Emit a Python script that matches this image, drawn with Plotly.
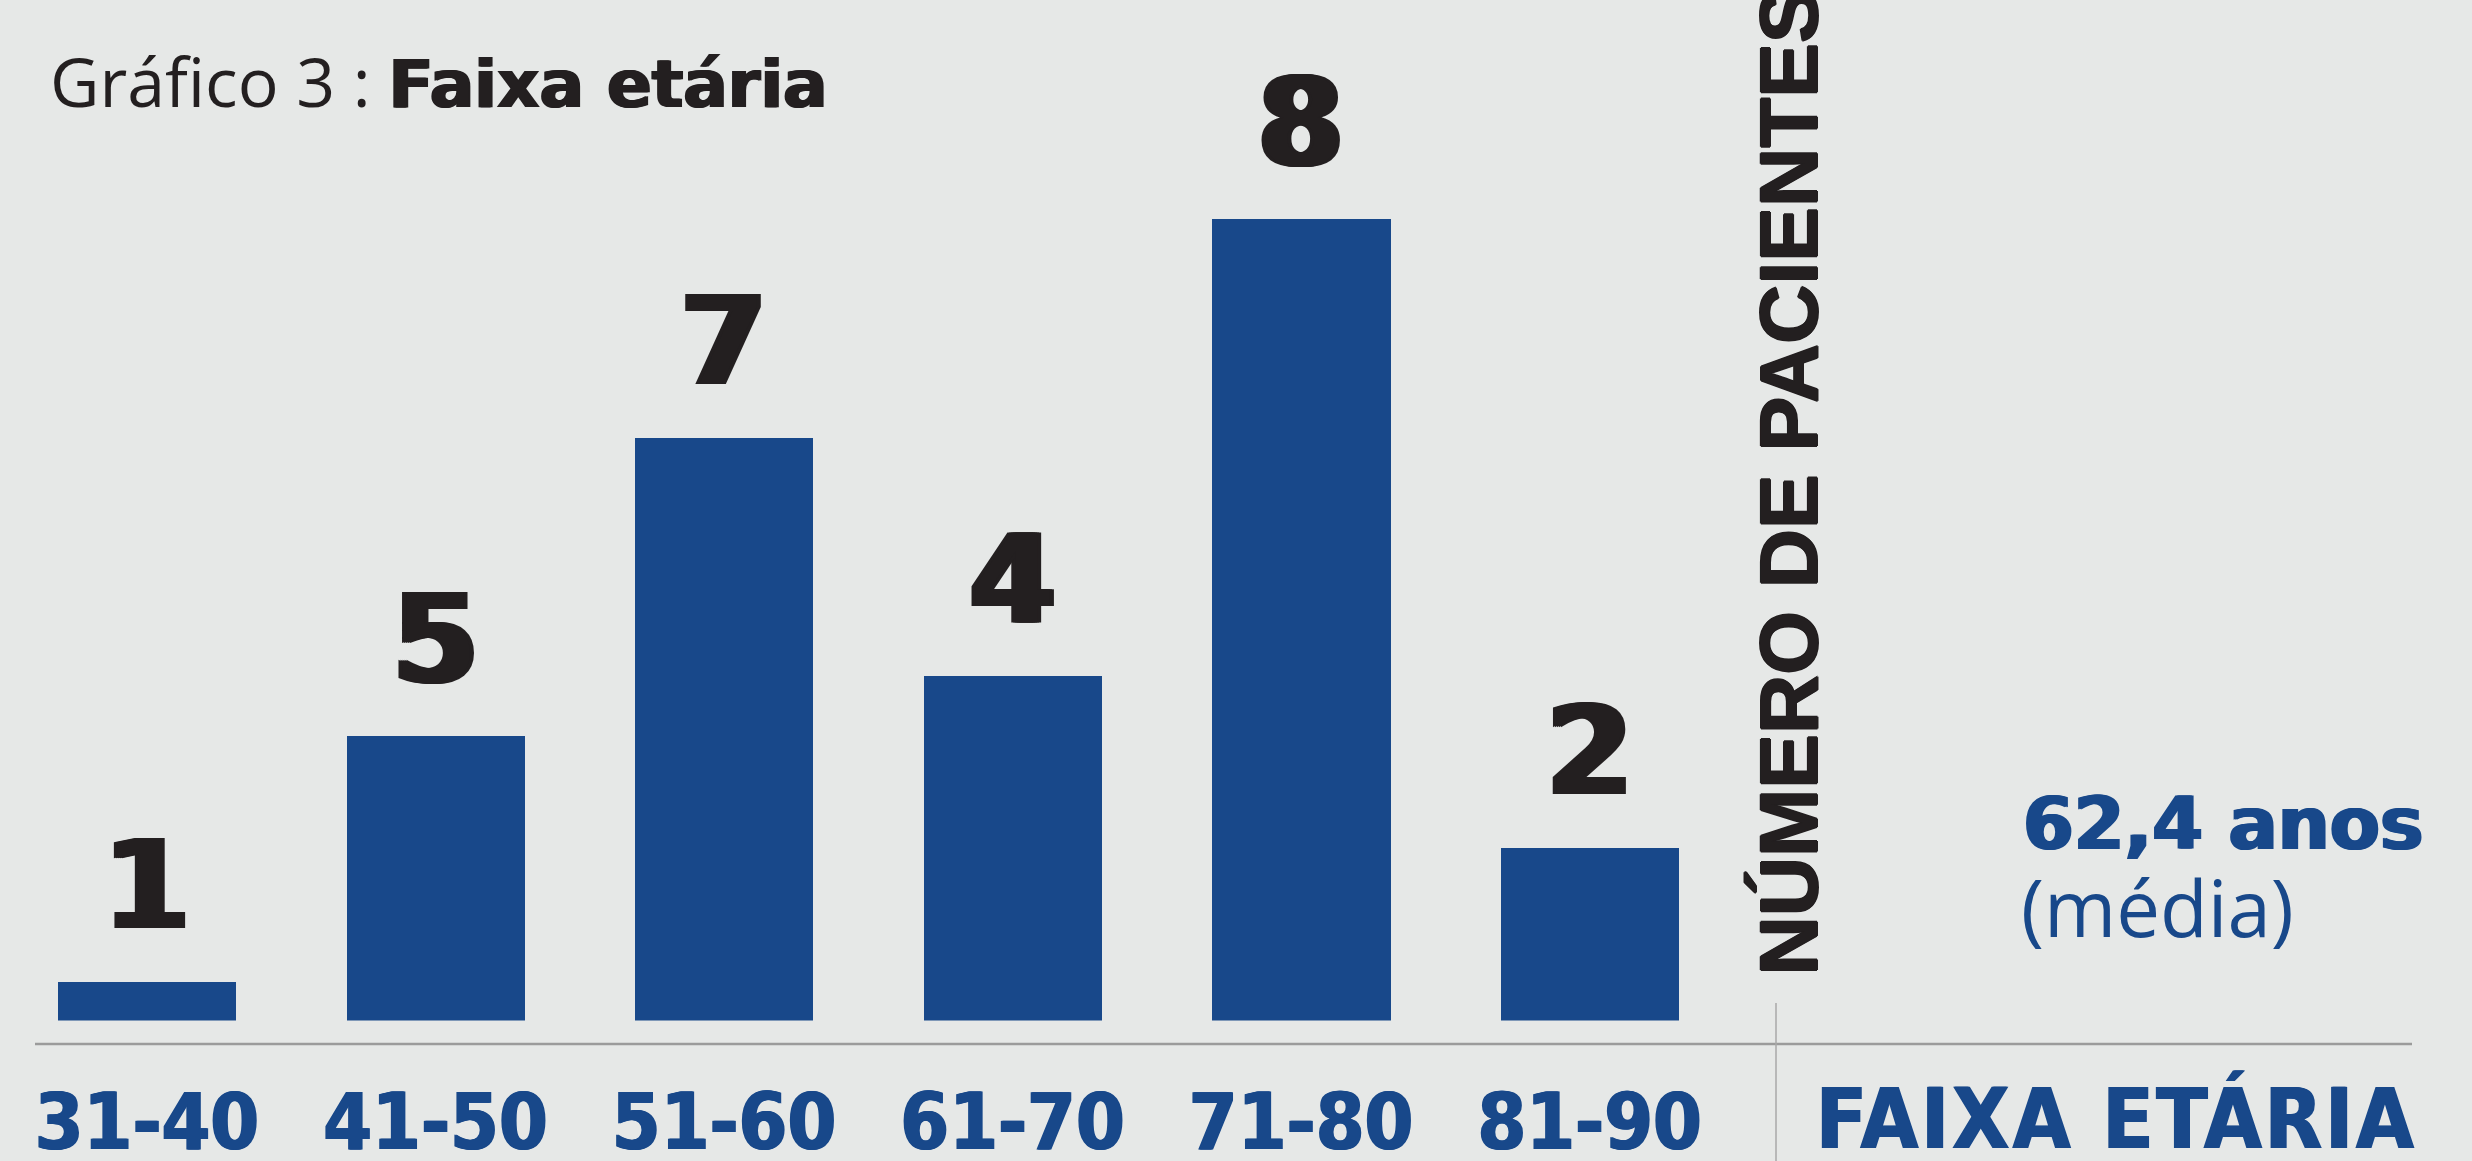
import plotly.graph_objects as go

# ---------------- data ----------------
age_groups = ["31-40", "41-50", "51-60", "61-70", "71-80", "81-90"]
patients = [1, 5, 7, 4, 8, 2]
# bar lengths as actually drawn in the reference (patient units, the "8" bar = 8)
drawn_heights = [0.38, 2.84, 5.82, 3.44, 8.0, 1.72]
title_plain = "Gráfico 3 : "
title_bold = "Faixa etária"
y_axis_label = "NÚMERO DE PACIENTES"
x_axis_label = "FAIXA ETÁRIA"
mean_age_text = "62,4 anos"
mean_note = "(média)"

# ---------------- style ----------------
W, H = 2472, 1161
BG = "#E6E8E7"
BLUE = "#18488A"
BLACK = "#231F20"
GRID = "#9B9B9B"


def py(px):
    """pixel row (from top) -> paper y"""
    return 1 - px / H


def px_(x):
    return x / W


def heavy(color, d):
    return ", ".join(f"{s}{d}px 0 0 {color}" for s in ("", "-")) + \
        ", " + ", ".join(f"{s}{d/2}px 0 0 {color}" for s in ("", "-"))


fig = go.Figure(
    go.Bar(
        x=list(range(len(age_groups))),
        y=drawn_heights,
        width=0.618,
        marker=dict(color=BLUE, line=dict(width=0)),
        hoverinfo="skip",
    )
)

annotations = []
for i, (n, h) in enumerate(zip(patients, drawn_heights)):
    annotations.append(dict(
        x=i, y=h, xref="x", yref="y", text=f"<b>{n}</b>",
        showarrow=False, yanchor="bottom", xanchor="center", yshift=25,
        borderpad=0, borderwidth=0,
        font=dict(family="DejaVu Sans", size=123, color=BLACK,
                  shadow=heavy(BLACK, 4)),
    ))

# title
annotations.append(dict(
    x=px_(50), y=py(127), xref="paper", yref="paper",
    xanchor="left", yanchor="bottom", showarrow=False, borderpad=0, borderwidth=0,
    text=(f"{title_plain}<span style=\"font-family:DejaVu Sans;font-weight:bold;"
          f"font-size:66px;text-shadow:1.5px 0 0 {BLACK},-1px 0 0 {BLACK}\">{title_bold}</span>"),
    font=dict(family="Open Sans", size=68, color=BLACK),
))

# vertical axis label
annotations.append(dict(
    x=px_(1788), y=py(976), xref="paper", yref="paper",
    xanchor="center", yanchor="bottom", textangle=-90, showarrow=False,
    borderpad=0, borderwidth=0,
    text=f"<b>{y_axis_label}</b>",
    font=dict(family="Liberation Sans", size=82, color=BLACK,
              shadow=f"1px 0 0 {BLACK}, -1px 0 0 {BLACK}, 0 1px 0 {BLACK}, 0 -1px 0 {BLACK}"),
))

# x axis label
annotations.append(dict(
    x=px_(1816), y=py(1168), xref="paper", yref="paper",
    xanchor="left", yanchor="bottom", showarrow=False, borderpad=0, borderwidth=0,
    text=f"<span style=\"letter-spacing:3px\"><b>{x_axis_label}</b></span>",
    font=dict(family="DejaVu Sans Condensed", size=83, color=BLUE,
              shadow=f"1px 0 0 {BLUE}, -1px 0 0 {BLUE}"),
))

# mean age
annotations.append(dict(
    x=px_(2023), y=py(866), xref="paper", yref="paper",
    xanchor="left", yanchor="bottom", showarrow=False, borderpad=0, borderwidth=0,
    text=f"<b>{mean_age_text}</b>",
    font=dict(family="DejaVu Sans", size=73, color=BLUE,
              shadow=f"1.5px 0 0 {BLUE}, -1.5px 0 0 {BLUE}"),
))
annotations.append(dict(
    x=px_(2021), y=py(960), xref="paper", yref="paper",
    xanchor="left", yanchor="bottom", showarrow=False, borderpad=0, borderwidth=0,
    text=mean_note,
    font=dict(family="Open Sans", size=78, color=BLUE),
))

shapes = [
    dict(type="line", xref="paper", yref="paper",
         x0=px_(35), x1=px_(2412), y0=py(1044), y1=py(1044),
         line=dict(color=GRID, width=2.5)),
    dict(type="line", xref="paper", yref="paper",
         x0=px_(1776), x1=px_(1776), y0=py(1003), y1=0,
         line=dict(color="#A8A8A8", width=1.5)),
]

fig.update_layout(
    template="none",
    width=W, height=H, autosize=False,
    margin=dict(l=0, r=0, t=0, b=0, pad=0),
    paper_bgcolor=BG, plot_bgcolor=BG,
    showlegend=False,
    bargap=0,
    xaxis=dict(
        domain=[0.0011, 0.7014], range=[-0.5, 5.5],
        tickmode="array", tickvals=list(range(len(age_groups))),
        ticktext=[f"<b>{t}</b>" for t in age_groups],
        tickfont=dict(family="DejaVu Sans Condensed", size=78, color=BLUE,
                      shadow=f"1px 0 0 {BLUE}, -1px 0 0 {BLUE}"),
        showline=False, showgrid=False, zeroline=False, ticks="",
        ticklabelstandoff=49, automargin=False, fixedrange=True,
    ),
    yaxis=dict(
        domain=[(H - 1020.5) / H, 1], range=[0, 10.19],
        visible=False, showgrid=False, zeroline=False, fixedrange=True,
        automargin=False,
    ),
    annotations=annotations,
    shapes=shapes,
)

fig.write_html(
    "out.html",
    config={"displayModeBar": False},
    post_script="document.body.style.margin='0';document.body.style.padding='0';",
)
